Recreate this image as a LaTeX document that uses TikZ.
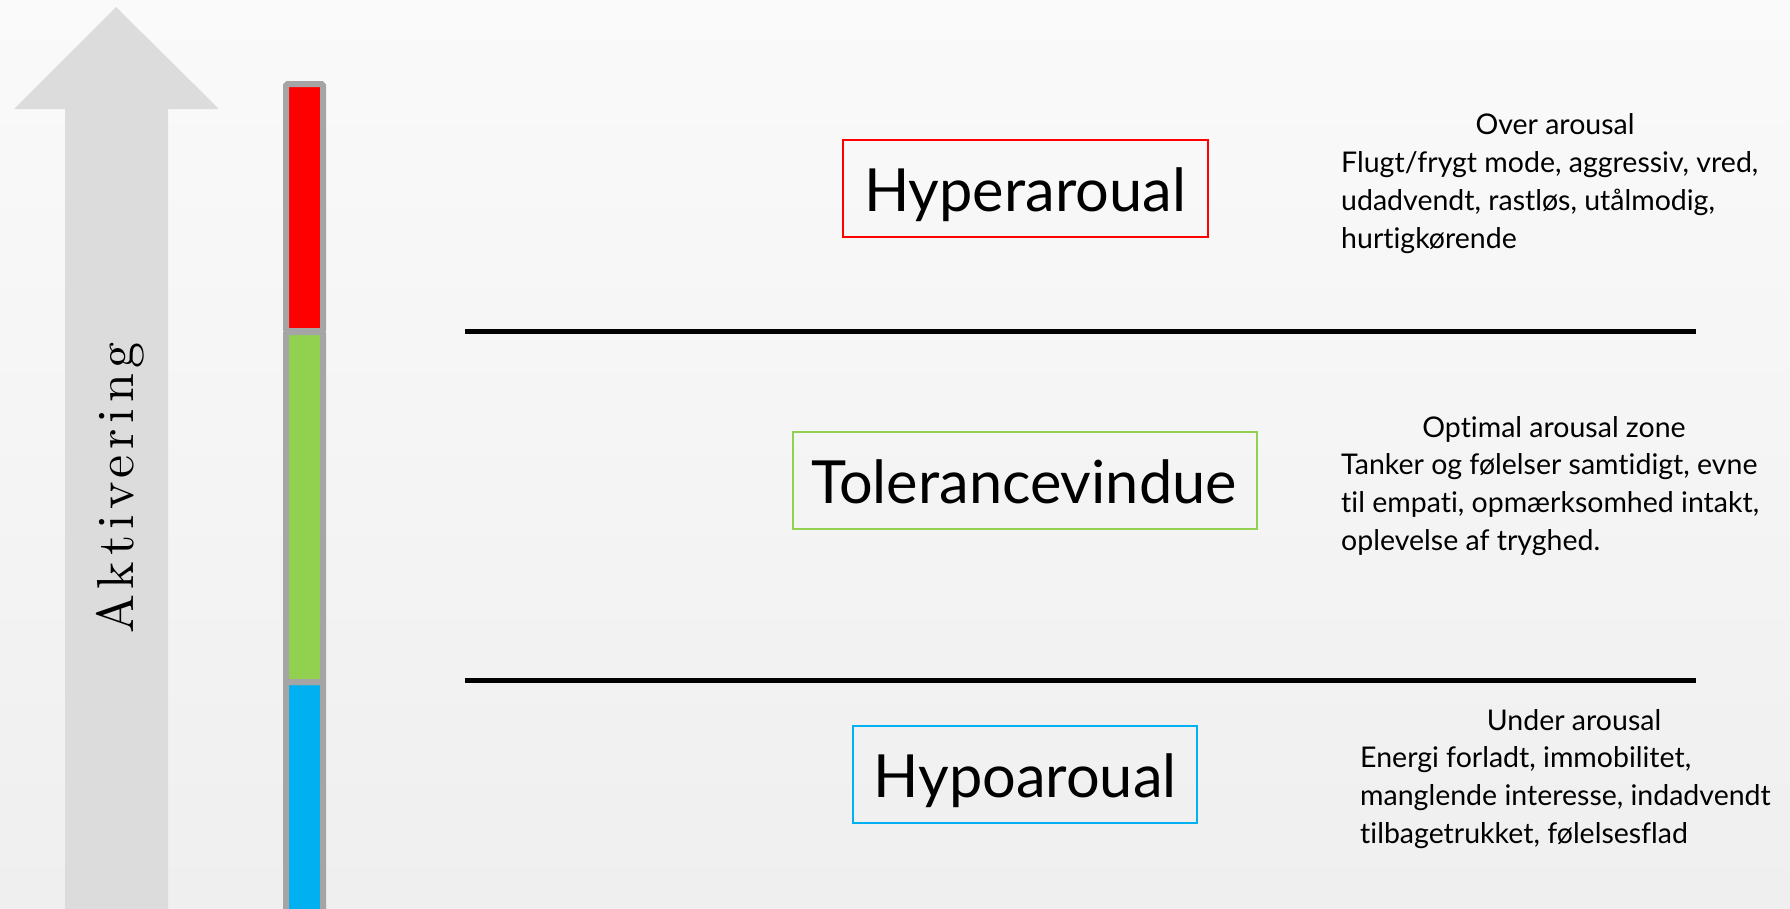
\documentclass[tikz,border=0pt]{standalone}
\usepackage{fontspec}
\newfontfamily\gs{Lato}[Ligatures={NoCommon,NoRequired,NoContextual}]
\newfontfamily\akt{lmroman10-regular}[Extension=.otf, LetterSpace=11]
\definecolor{bgtop}{HTML}{FAFAFA}
\definecolor{bgbot}{HTML}{EFEFEF}
\definecolor{arrowgrey}{HTML}{DCDCDC}
\definecolor{bargrey}{HTML}{A5A5A5}
\definecolor{hyperred}{HTML}{FF0000}
\definecolor{tolgreen}{HTML}{92D050}
\definecolor{hypoblue}{HTML}{00B0F0}
\tikzset{
  zonebox/.style={draw=#1, line width=2pt, minimum width=365pt, minimum height=97pt, inner sep=0pt},
  zonelabel/.style={font=\gs\fontsize{59.5}{59.5}\selectfont, inner sep=0pt, anchor=base},
  barseg/.style={fill=#1, draw=bargrey, line width=6pt, rounded corners=1.5pt},
  sepline/.style={line width=5pt, black},
  headtxt/.style={font=\gs\fontsize{28.5}{34}\selectfont, inner sep=0pt, anchor=base},
  bodytxt/.style={font=\gs\fontsize{28.5}{34}\selectfont, inner sep=0pt, anchor=base west}
}
\begin{document}
\begin{tikzpicture}[x=1pt, y=-1pt]
  \useasboundingbox (0,0) rectangle (1790,908);
  \clip (0,0) rectangle (1790,908);
  % background
  \shade[top color=bgtop, bottom color=bgbot] (0,0) rectangle (1790,908);

  % activation arrow
  \fill[arrowgrey] (116,7) -- (219,109) -- (168,109) -- (168,915) -- (65,915) -- (65,109) -- (14,109) -- cycle;
  \node[rotate=90, anchor=base, inner sep=0pt, font=\akt\fontsize{52}{52}\selectfont] (aktiv) at (133,488) {Aktivering};

  % colour bar
  \draw[barseg=hypoblue] (286,682) rectangle (323,930);
  \draw[barseg=tolgreen] (286,332) rectangle (323,682);
  \draw[barseg=hyperred] (286,84) rectangle (323,331);

  % zone separators
  \draw[sepline] (465,331.5) -- (1696,331.5);
  \draw[sepline] (465,680) -- (1696,680);

  % zone boxes
  \node[zonebox=hyperred] (hyper) at (1025,188.5) {};
  \node[zonelabel] (hyperlbl) at (1025,211) {Hyperaroual};

  \node[zonebox=tolgreen, minimum width=464pt] (tol) at (1025,480.5) {};
  \node[zonelabel] (tollbl) at (1024,503) {Tolerancevindue};

  \node[zonebox=hypoblue, minimum width=344pt] (hypo) at (1025,774.5) {};
  \node[zonelabel] (hypolbl) at (1025,797) {Hypoaroual};

  % descriptions
  \node[headtxt] (overhead) at (1555,134) {Over arousal};
  \foreach \t [count=\i] in {{Flugt/frygt mode, aggressiv, vred,},{udadvendt, rastløs, utålmodig,},{hurtigkørende}}
    \node[bodytxt] (over\i) at (1341,{172+38*(\i-1)}) {\t};

  \node[headtxt] (opthead) at (1554,437) {Optimal arousal zone};
  \foreach \t [count=\i] in {{Tanker og følelser samtidigt, evne},{til empati, opmærksomhed intakt,},{oplevelse af tryghed.}}
    \node[bodytxt] (opt\i) at (1341,{474+38*(\i-1)}) {\t};

  \node[headtxt] (underhead) at (1574,730) {Under arousal};
  \foreach \t [count=\i] in {{Energi forladt, immobilitet,},{manglende interesse, indadvendt},{tilbagetrukket, følelsesflad}}
    \node[bodytxt] (under\i) at (1360,{767+38*(\i-1)}) {\t};
\end{tikzpicture}
\end{document}
